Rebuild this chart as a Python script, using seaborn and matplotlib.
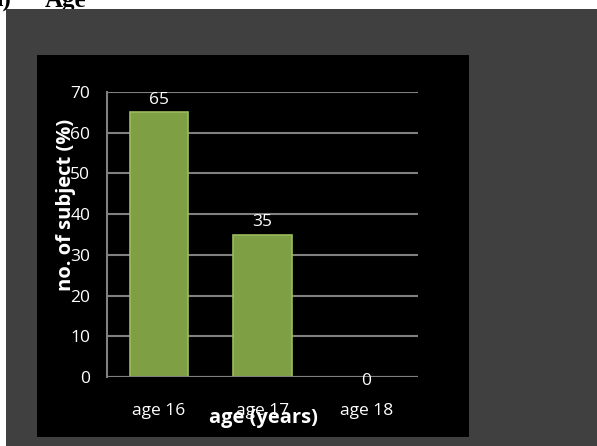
import pandas as pd
import matplotlib
matplotlib.use("Agg")
import matplotlib.pyplot as plt
import matplotlib.patches as mpatches
import seaborn as sns

# data
ages = ["age 16", "age 17", "age 18"]
percent = [65, 35, 0]

df = pd.DataFrame({"age": ages, "percent": percent})

sns.set_theme(style="dark")
plt.rcParams["font.family"] = ["Open Sans", "DejaVu Sans"]

W, H = 597, 446
fig = plt.figure(figsize=(W / 100, H / 100), dpi=100, facecolor="white")

# grey frame and black chart area (pixel -> figure fraction)
def px_rect(x0, y0, x1, y1, color, z):
    r = mpatches.Rectangle((x0 / W, 1 - y1 / H), (x1 - x0) / W, (y1 - y0) / H,
                           transform=fig.transFigure, facecolor=color,
                           edgecolor="none", zorder=z)
    fig.patches.append(r)

px_rect(6, 9, 597, 446, "#404040", -2)
px_rect(37, 55, 469, 437, "black", -1)

# heading that is cut off at the top of the picture
fig.text(-10 / W, 1 - 7 / H, "a)", fontsize=18, fontweight="bold",
         family="Liberation Serif", color="black", zorder=-3)
fig.text(45 / W, 1 - 7 / H, "Age", fontsize=18, fontweight="bold",
         family="Liberation Serif", color="black", zorder=-3)

ax = fig.add_axes([107 / W, 1 - 377 / H, (418 - 107) / W, (377 - 92) / H])
ax.set_facecolor("none")

sns.barplot(data=df, x="age", y="percent", color="#7f9f45", width=0.56,
            edgecolor="#9cba5e", linewidth=1.2, saturation=1, ax=ax, zorder=3)
# empty bar should not leave a green line on the axis
for p in ax.patches:
    if p.get_height() == 0:
        p.set_linewidth(0)

ax.set_ylim(0, 70)
ax.set_xlim(-0.5, 2.5)
ax.set_yticks(range(0, 71, 10))
ax.grid(axis="y", color="#808080", linewidth=1.5, zorder=0)
ax.grid(axis="x", visible=False)

for s in ["top", "right", "bottom"]:
    ax.spines[s].set_visible(False)
ax.spines["left"].set_color("#808080")
ax.spines["left"].set_linewidth(1.5)
ax.axhline(0, color="#808080", linewidth=1.5, zorder=4)

ax.tick_params(axis="y", colors="white", labelsize=12.5, length=5,
               width=1.5, direction="out", pad=7)
ax.tick_params(axis="y", which="both", color="#808080")
ax.tick_params(axis="x", colors="white", labelsize=12.5, length=0, pad=19)

# value labels
for i, v in enumerate(percent):
    off = -3 if v == 0 else 3
    ax.annotate(str(v), (i, v), xytext=(0, off), textcoords="offset points",
                ha="center", va="bottom" if v else "center",
                color="white", fontsize=12.5, zorder=5)

ax.set_xlabel("age (years)", color="white", fontsize=14.5, fontweight="bold")
ax.set_ylabel("no. of subject (%)", color="white", fontsize=14.5, fontweight="bold")
ax.xaxis.set_label_coords(0.502, -0.11)
ax.yaxis.set_label_coords(-0.1, 0.603)

fig.savefig("out.png", dpi=100, facecolor="white")
